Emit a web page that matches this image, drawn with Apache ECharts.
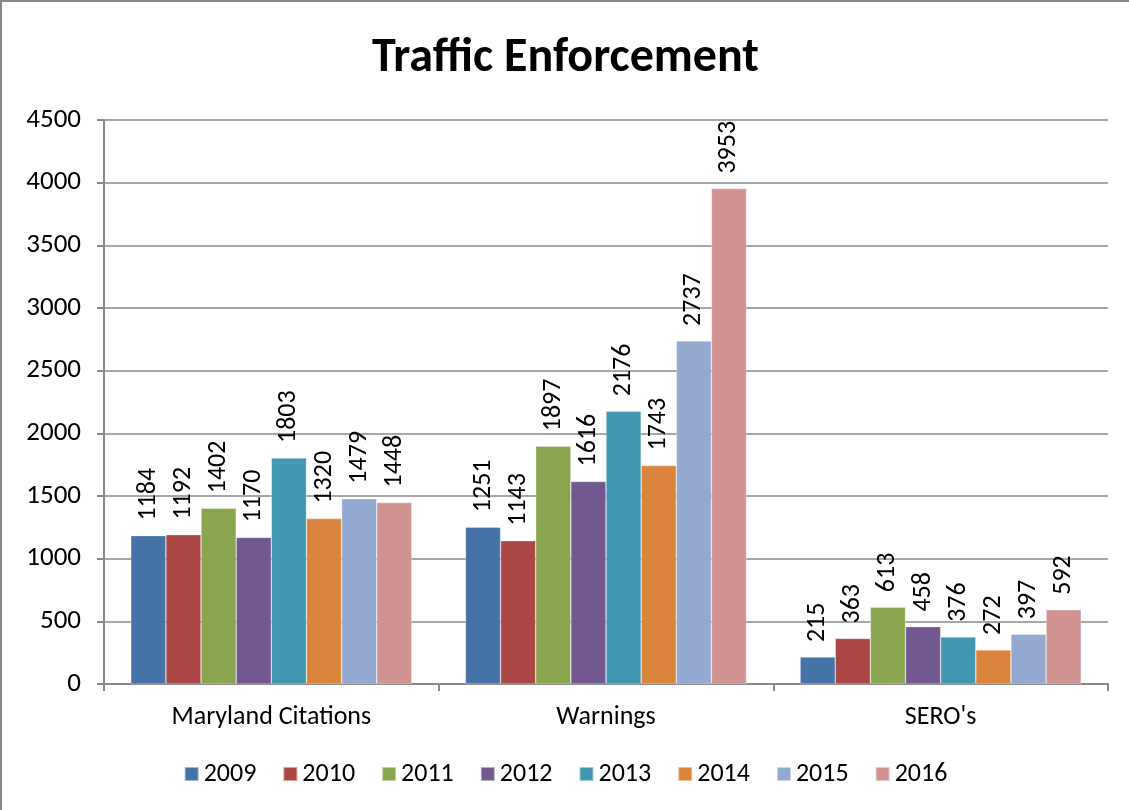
<!DOCTYPE html>
<html>
<head>
<meta charset="utf-8">
<script src="https://cdn.jsdelivr.net/npm/echarts@6/dist/echarts.min.js"></script>
<style>
  html, body { margin: 0; padding: 0; background: #fff; }
  #main { width: 1129px; height: 810px; box-sizing: border-box; border: 2px solid #888; border-right: none; border-bottom: none; }
</style>
</head>
<body>
<div id="main"></div>
<script>
var categories = ['Maryland Citations', 'Warnings', "SERO's"];
var years = ['2009', '2010', '2011', '2012', '2013', '2014', '2015', '2016'];
var v2009 = [1184, 1251, 215];
var v2010 = [1192, 1143, 363];
var v2011 = [1402, 1897, 613];
var v2012 = [1170, 1616, 458];
var v2013 = [1803, 2176, 376];
var v2014 = [1320, 1743, 272];
var v2015 = [1479, 2737, 397];
var v2016 = [1448, 3953, 592];
var colors = ['#4572a7', '#aa4643', '#89a54e', '#71588f', '#4198af', '#db843d', '#93a9cf', '#d19392'];

var seriesData = [v2009, v2010, v2011, v2012, v2013, v2014, v2015, v2016];
var font = 'Carlito, Lato, sans-serif';

var myChart = echarts.init(document.getElementById('main'));
var series = [];
for (var i = 0; i < years.length; i++) {
    series.push({
        name: years[i],
        type: 'bar',
        data: seriesData[i],
        barGap: '0%',
        barCategoryGap: '16%',
        itemStyle: { color: colors[i], borderColor: 'rgba(255,255,255,0.5)', borderWidth: 0.6 },
        label: {
            show: true,
            position: 'top',
            rotate: 90,
            align: 'left',
            verticalAlign: 'middle',
            distance: 15,
            fontSize: 26,
            fontFamily: font,
            color: '#000'
        }
    });
}

var option = {
    animation: false,
    title: {
        text: 'Traffic Enforcement',
        left: 'center',
        top: 28,
        textStyle: { fontSize: 48, fontWeight: 'bold', fontFamily: font, color: '#000' }
    },
    legend: {
        data: years,
        bottom: 18,
        left: 'center',
        itemWidth: 14,
        itemHeight: 14,
        itemGap: 26,
        icon: 'rect',
        textStyle: { fontSize: 26, fontFamily: font, color: '#000' }
    },
    grid: { left: 102, right: 21, top: 118, bottom: 126, containLabel: false },
    xAxis: {
        type: 'category',
        data: categories,
        axisLine: { lineStyle: { color: '#888', width: 2 } },
        axisTick: { show: true, length: 7, lineStyle: { color: '#888', width: 2 } },
        axisLabel: { fontSize: 26, fontFamily: font, color: '#000', margin: 20 }
    },
    yAxis: {
        type: 'value',
        min: 0,
        max: 4500,
        interval: 500,
        axisLine: { show: true, lineStyle: { color: '#888', width: 2 } },
        axisTick: { show: true, length: 7, lineStyle: { color: '#888', width: 2 } },
        axisLabel: {
            fontSize: 27, fontFamily: font, color: '#000', margin: 23,
            formatter: function (v) { return String(v); }
        },
        splitLine: { lineStyle: { color: '#888', width: 1.5 } }
    },
    series: series
};
myChart.setOption(option);
</script>
</body>
</html>
